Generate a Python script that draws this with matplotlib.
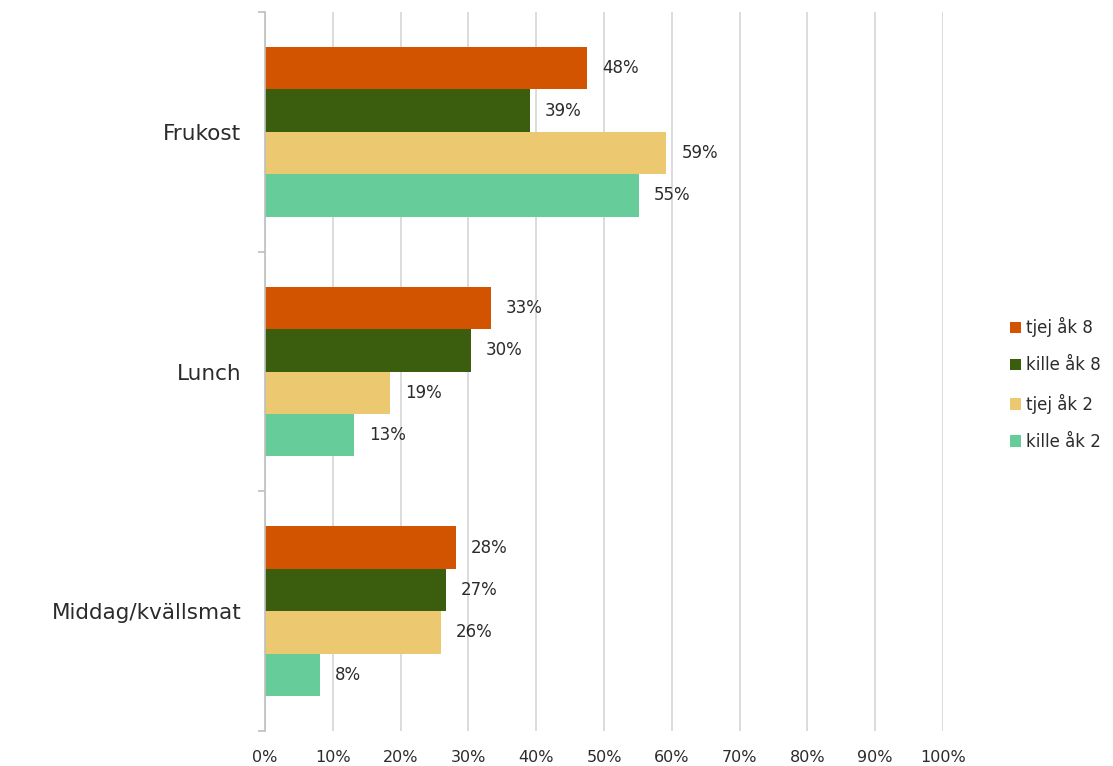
import matplotlib
matplotlib.use("Agg")
import matplotlib.pyplot as plt
from matplotlib.patches import Patch
import numpy as np

categories = ["Frukost", "Lunch", "Middag/kvällsmat"]
series_names = ["tjej åk 8", "kille åk 8", "tjej åk 2", "kille åk 2"]
tjej8 = [47.5, 33.3, 28.2]
kille8 = [39.1, 30.4, 26.7]
tjej2 = [59.2, 18.5, 25.9]
kille2 = [55.2, 13.1, 8.1]
labels = [["48%", "33%", "28%"], ["39%", "30%", "27%"], ["59%", "19%", "26%"], ["55%", "13%", "8%"]]
colors = ["#D35400", "#3A5E0D", "#ECC870", "#66CD9A"]
xticks = [0, 10, 20, 30, 40, 50, 60, 70, 80, 90, 100]
xticklabels = [f"{v}%" for v in xticks]

plt.rcParams['font.family'] = ['DejaVu Sans']
txt = "#2b2b2b"

fig = plt.figure(figsize=(11.13, 7.66), dpi=100)
ax = fig.add_axes([265/1113, 1-731/766, (943-265)/1113, (731-12)/766])

series = [tjej8, kille8, tjej2, kille2]
bh = 0.177
y = np.arange(len(categories))
for i, (vals, c) in enumerate(zip(series, colors)):
    pos = y - 1.5*bh + i*bh
    ax.barh(pos, vals, height=bh, color=c, zorder=3, label=series_names[i])
    for p, v, lab in zip(pos, vals, labels[i]):
        ax.text(v + 2.2, p, lab, va="center", ha="left", fontsize=12, color=txt)

ax.set_ylim(2.5, -0.5)
ax.set_xlim(0, 100)
ax.set_xticks(xticks)
ax.set_xticklabels(xticklabels, fontsize=11.5, color=txt)
ax.tick_params(axis='x', length=0, pad=14)
ax.set_yticks(y)
ax.set_yticklabels(categories, fontsize=15.5, color=txt)
ax.set_yticks([-0.5, 0.5, 1.5, 2.5], minor=True)
ax.tick_params(axis='y', which='major', length=0, pad=17)
ax.tick_params(axis='y', which='minor', length=5, color="#bfbfbf", width=1.2)
ax.grid(axis='x', color="#d9d9d9", linewidth=1.3, zorder=0)
for s in ["top", "right", "bottom"]:
    ax.spines[s].set_visible(False)
ax.spines["left"].set_color("#bfbfbf")
ax.spines["left"].set_linewidth(1.2)
ax.spines["left"].set_zorder(4)

handles = [Patch(facecolor=c, edgecolor='none') for c in colors]
leg = fig.legend(handles, series_names, loc="center left", bbox_to_anchor=(1003/1113, 1-384/766),
                 frameon=False, fontsize=12, handlelength=0.7, handleheight=0.7,
                 handletextpad=0.3, labelspacing=1.15, borderaxespad=0)
for t in leg.get_texts():
    t.set_color(txt)

fig.savefig("out.png", dpi=100)
